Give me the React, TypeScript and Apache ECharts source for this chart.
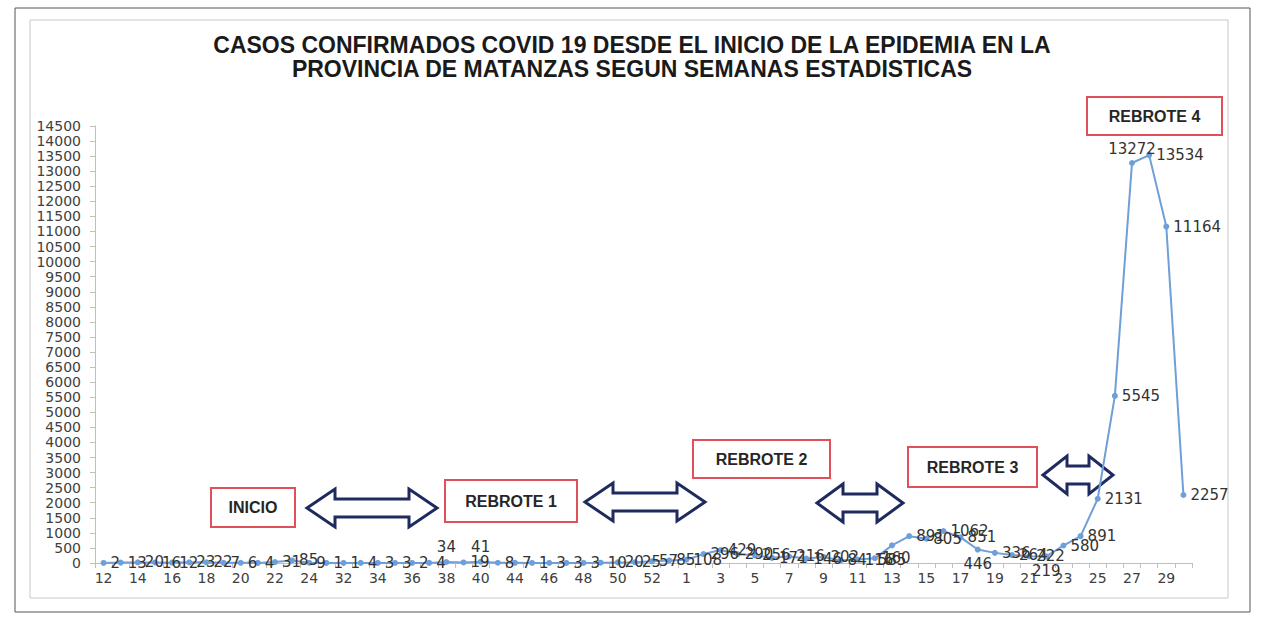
import React, { useEffect, useRef } from "react";
import * as echarts from "echarts";

const weeks: string[] = [
  "12","13","14","15","16","17","18","19","20","21","22","23","24",
  "31",
  "32","33","34","35","36","37","38","39","40",
  "42",
  "44","45","46","47","48","49","50","51","52","53",
  "1","2","3","4","5","6","7","8","9","10","11","12","13","14","15","16","17","18","19","20",
  "21","22","23","24","25","26","27","28","29","30",
];

const cases2020: number[] = [
  2, 13, 20, 16, 12, 23, 22, 7, 6, 4, 31, 85, 9,
  1,
  1, 4, 3, 3, 2, 4, 34, 19, 41,
  8,
  7, 1, 3, 3, 3, 10, 20, 25, 57, 85,
];

const cases2021: number[] = [
  108, 296, 429, 290, 256, 171, 216, 146, 202, 84, 116, 160, 585, 891, 805,
  1062, 851, 446, 336, 264, 222, 219, 580, 891, 2131, 5545, 13272, 13534, 11164, 2257,
];

const values: number[] = [...cases2020, ...cases2021];

const title1 = "CASOS CONFIRMADOS COVID 19 DESDE EL INICIO DE LA EPIDEMIA EN LA";
const title2 = "PROVINCIA DE MATANZAS SEGUN SEMANAS ESTADISTICAS";

const boxLabels: string[] = ["INICIO", "REBROTE 1", "REBROTE 2", "REBROTE 3", "REBROTE 4"];

function doubleArrow(x0: number, x1: number, c: number, h: number, s: number, L: number) {
  return [
    [x0, c], [x0 + L, c - h], [x0 + L, c - s], [x1 - L, c - s], [x1 - L, c - h],
    [x1, c], [x1 - L, c + h], [x1 - L, c + s], [x0 + L, c + s], [x0 + L, c + h],
  ];
}

export default function App() {
  const ref = useRef<HTMLDivElement>(null);
  useEffect(() => {
    if (!ref.current) return;
    const chart = echarts.init(ref.current, null, { renderer: "svg" });
    const boxes = [
      { x: 211, y: 488, w: 84, h: 39 },
      { x: 445, y: 480, w: 132, h: 42 },
      { x: 693, y: 440, w: 137, h: 38 },
      { x: 908, y: 447, w: 129, h: 40 },
      { x: 1087, y: 97, w: 135, h: 38 },
    ];
    const arrows = [
      doubleArrow(307, 437, 508, 19, 9, 28),
      doubleArrow(585, 705, 502, 19, 9, 28),
      doubleArrow(817, 903, 503, 19, 9, 26),
      doubleArrow(1043, 1113, 475, 19, 9, 24),
    ];
    const titleFont = "bold 23px 'Liberation Sans', Arial, sans-serif";
    const graphic: any[] = [
      { type: "rect", shape: { x: 15, y: 8, width: 1235, height: 604 }, style: { fill: "none", stroke: "#555", lineWidth: 1 }, z: -1 },
      { type: "rect", shape: { x: 30, y: 20, width: 1198, height: 578 }, style: { fill: "none", stroke: "#c8c8c8", lineWidth: 1 }, z: -1 },
      {
        type: "text", x: 632, y: 45,
        style: { text: title1, fill: "#1a1a1a", font: titleFont, textAlign: "center", textVerticalAlign: "middle" },
      },
      {
        type: "text", x: 632, y: 69,
        style: { text: title2, fill: "#1a1a1a", font: titleFont, textAlign: "center", textVerticalAlign: "middle" },
      },
    ];
    boxes.forEach((b, i) => {
      graphic.push({ type: "rect", shape: { x: b.x, y: b.y, width: b.w, height: b.h }, style: { fill: "#fff", stroke: "#e0505a", lineWidth: 2 } });
      graphic.push({
        type: "text", x: b.x + b.w / 2, y: b.y + b.h / 2,
        style: { text: boxLabels[i], fill: "#262626", font: "bold 16px 'Liberation Sans', Arial, sans-serif", textAlign: "center", textVerticalAlign: "middle" },
      });
    });
    arrows.forEach((pts) => {
      graphic.push({ type: "polygon", shape: { points: pts }, style: { fill: "#fff", stroke: "#1f2b5e", lineWidth: 3, lineJoin: "miter" } });
    });

    const topLabelIdx = [20, 22];
    const bottomLabelIdx = [46, 51, 55];
    const data = values.map((v, i) => {
      let pos = "right";
      if (v === 13272 || topLabelIdx.includes(i)) pos = "top";
      if (bottomLabelIdx.includes(i)) pos = "bottom";
      return { value: v, label: { position: pos } };
    });

    const axisFont = "'DejaVu Sans', Verdana, sans-serif";
    chart.setOption({
      animation: false,
      backgroundColor: "#fff",
      grid: { left: 95, right: 72, top: 126, bottom: 62 },
      xAxis: {
        type: "category",
        data: weeks,
        boundaryGap: true,
        axisLine: { lineStyle: { color: "#bfbfbf" } },
        axisTick: { show: true, interval: 0, lineStyle: { color: "#bfbfbf" } },
        axisLabel: { interval: 1, color: "#404040", fontSize: 14, fontFamily: axisFont, margin: 8 },
        splitLine: { show: false },
      },
      yAxis: {
        type: "value",
        min: 0,
        max: 14500,
        interval: 500,
        axisLine: { show: true, lineStyle: { color: "#bfbfbf" } },
        axisTick: { show: true, lineStyle: { color: "#bfbfbf" } },
        axisLabel: { color: "#404040", fontSize: 14, fontFamily: axisFont, margin: 14, formatter: (v: number) => String(v) },
        splitLine: { show: false },
      },
      series: [
        {
          type: "line",
          data,
          symbol: "circle",
          symbolSize: 6,
          lineStyle: { color: "#6f9fd8", width: 2 },
          itemStyle: { color: "#6f9fd8" },
          label: {
            show: true,
            position: "right",
            color: "#333",
            fontSize: 15,
            fontFamily: axisFont,
            distance: 4,
          },
          labelLayout: { hideOverlap: false },
        },
      ],
      graphic,
    });
    return () => chart.dispose();
  }, []);
  return <div ref={ref} style={{ position: "absolute", left: 0, top: 0, width: 1264, height: 625 }} />;
}
